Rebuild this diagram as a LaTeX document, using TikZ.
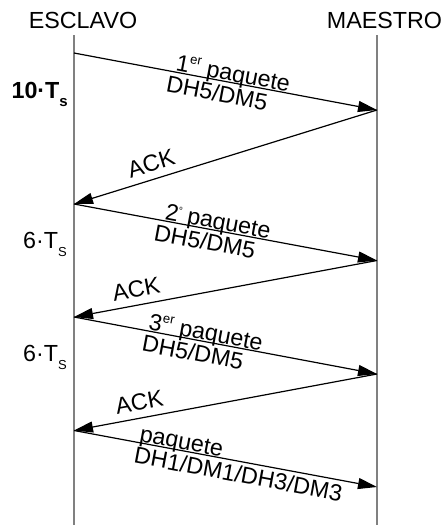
\documentclass[tikz,border=0pt]{standalone}
\usepackage{fontspec}
\setmainfont{Liberation Sans}
\usetikzlibrary{arrows.meta}
\newcommand{\supr}[1]{\raisebox{9.5pt}{\fontsize{13}{13}\selectfont #1}}
\newcommand{\subl}[1]{\raisebox{-8pt}{\fontsize{13}{13}\selectfont #1}}
\newcommand{\subb}[1]{\raisebox{-8pt}{\fontsize{15}{15}\selectfont #1}}
\begin{document}
\begin{tikzpicture}[x=1pt,y=-1pt,
  lbl/.style={font=\fontsize{23.3}{25}\selectfont, inner sep=0pt},
  life/.style={draw=black!50, line width=1.5pt},
  msg/.style={draw=black, line width=1.2pt, -{Triangle[length=19pt,width=11pt]}},
  up/.style={sloped, above=-4pt, lbl},
  dn/.style={sloped, below=3.5pt, lbl},
  ackl/.style={sloped, above=7pt, lbl}]
\useasboundingbox (0,0) rectangle (444,525);
\node[lbl] (esclavo) at (83,20) {ESCLAVO};
\node[lbl] (maestro) at (384.5,20) {MAESTRO};
\coordinate (ltop) at (74,35);
\coordinate (lbot) at (74,525);
\coordinate (rtop) at (377,35);
\coordinate (rbot) at (377,525);
\draw[life] (ltop) -- (lbot);
\draw[life] (rtop) -- (rbot);
\coordinate (s1) at (74,53);
\coordinate (m1) at (377,110);
\coordinate (s2) at (74,204);
\coordinate (m2) at (377,260.5);
\coordinate (s3) at (74,317);
\coordinate (m3) at (377,374);
\coordinate (s4) at (74,430.5);
\coordinate (m4) at (377,487);
\draw[msg] (s1) -- node[pos=0.52, up] {1\supr{er} paquete} node[pos=0.48, dn] {DH5/DM5} (m1);
\draw[msg] (m1) -- node[pos=0.73, ackl] {ACK} (s2);
\draw[msg] (s2) -- node[pos=0.47, up] {2\supr{\fontsize{8}{8}\selectfont º} paquete} node[pos=0.44, dn] {DH5/DM5} (m2);
\draw[msg] (m2) -- node[pos=0.785, ackl] {ACK} (s3);
\draw[msg] (s3) -- node[pos=0.43, up] {3\supr{er} paquete} node[pos=0.40, dn] {DH5/DM5} (m3);
\draw[msg] (m3) -- node[pos=0.775, ackl] {ACK} (s4);
\draw[msg] (s4) -- node[pos=0.35, up] {paquete} node[pos=0.55, dn] {DH1/DM1/DH3/DM3} (m4);
\node[lbl, anchor=base east] (t1) at (68,98) {\bfseries 10·T\subb{s}};
\node[lbl, anchor=base east] (t2) at (67,248) {6·T\subl{S}};
\node[lbl, anchor=base east] (t3) at (67,361) {6·T\subl{S}};
\end{tikzpicture}
\end{document}
